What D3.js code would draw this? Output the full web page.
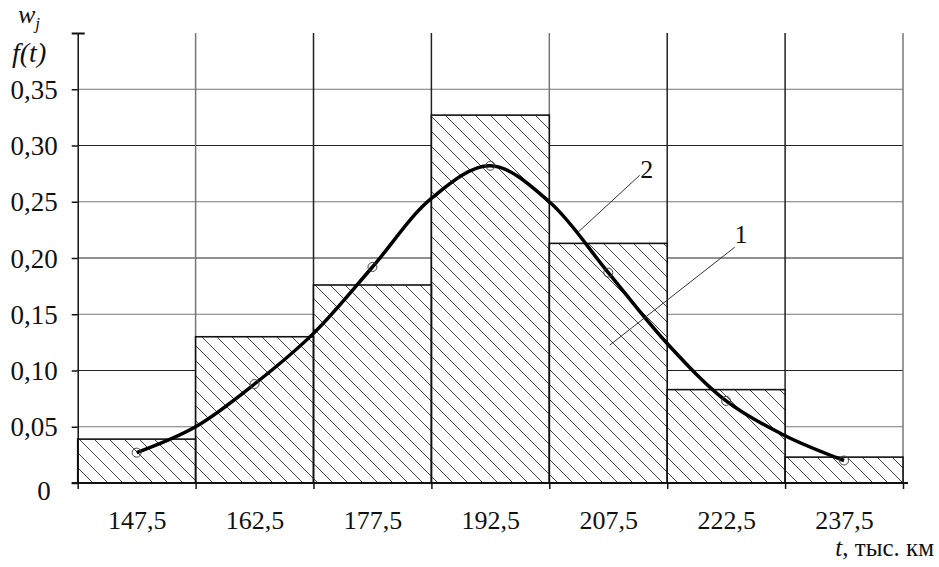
<!DOCTYPE html>
<html>
<head>
<meta charset="utf-8">
<script src="https://cdn.jsdelivr.net/npm/d3@7"></script>
<style>
  body { margin: 0; background: #fff; }
  text { font-family: "Liberation Serif", "Times New Roman", serif; fill: #111; }
</style>
</head>
<body>
<div class="canvas"></div>
<script>
// bin midpoints (thousand km) and relative frequencies w_j
const mids = [147.5, 162.5, 177.5, 192.5, 207.5, 222.5, 237.5];
const freqs = [0.039, 0.130, 0.176, 0.327, 0.213, 0.083, 0.023];
// bin edges
const edges = [140, 155, 170, 185, 200, 215, 230, 245];
// density curve f(t)
const curveT = [147.5, 155, 162.5, 170, 177.5, 185, 192.5, 200, 207.5, 215, 222.5, 230, 237.5];
const curveF = [0.027, 0.050, 0.088, 0.133, 0.192, 0.253, 0.282, 0.250, 0.187, 0.124, 0.073, 0.042, 0.020];
// values of the theoretical curve at the midpoints (circles)
const pointF = [0.027, 0.088, 0.192, 0.282, 0.187, 0.073, 0.020];
const yTicks = [0, 0.05, 0.10, 0.15, 0.20, 0.25, 0.30, 0.35, 0.40];

const width = 939, height = 567;
const svg = d3.select('.canvas')
  .append('svg')
   .attr('width', width)
   .attr('height', height);

const x = d3.scaleLinear().domain([140, 245]).range([77.7, 903]);
const y = d3.scaleLinear().domain([0, 0.40]).range([483, 33]);

const comma = d => d === 0 ? '0' : d3.format('.2f')(d).replace('.', ',');

// hatch pattern
const defs = svg.append('defs');
const pat = defs.append('pattern')
  .attr('id', 'hatch')
  .attr('patternUnits', 'userSpaceOnUse')
  .attr('width', 15).attr('height', 15);
pat.append('path')
  .attr('d', 'M-2,-2L17,17M-2,13L2,17M13,-2L17,2')
  .attr('stroke', '#444')
  .attr('stroke-width', 1);

// grid
const grid = svg.append('g');
grid.selectAll('line.h')
  .data(yTicks.filter(d => d > 0 && d < 0.4))
  .enter().append('line')
   .attr('x1', x(140)).attr('x2', x(245))
   .attr('y1', d => y(d)).attr('y2', d => y(d))
   .attr('stroke', (d, i) => i % 2 === 0 ? '#777' : '#222')
   .attr('stroke-width', 1.2);
grid.selectAll('line.v')
  .data(edges.slice(1))
  .enter().append('line')
   .attr('x1', d => x(d)).attr('x2', d => x(d))
   .attr('y1', y(0.40)).attr('y2', y(0))
   .attr('stroke', (d, i) => i % 3 === 0 ? '#777' : '#222')
   .attr('stroke-width', 1.5);

// bars: white under-fill then hatch
const bars = svg.append('g');
bars.selectAll('rect.bg')
  .data(mids)
  .enter().append('rect')
   .attr('x', (d, i) => x(edges[i]))
   .attr('width', (d, i) => x(edges[i + 1]) - x(edges[i]))
   .attr('y', (d, i) => y(freqs[i]))
   .attr('height', (d, i) => y(0) - y(freqs[i]))
   .attr('fill', '#fff');
bars.selectAll('rect.fg')
  .data(mids)
  .enter().append('rect')
   .attr('x', (d, i) => x(edges[i]))
   .attr('width', (d, i) => x(edges[i + 1]) - x(edges[i]))
   .attr('y', (d, i) => y(freqs[i]))
   .attr('height', (d, i) => y(0) - y(freqs[i]))
   .attr('fill', 'url(#hatch)')
   .attr('stroke', '#111')
   .attr('stroke-width', 1.6);

// axes
const yAxis = d3.axisLeft(y)
  .tickValues(yTicks)
  .tickSize(6)
  .tickSizeOuter(0)
  .tickPadding(14)
  .tickFormat(d => d === 0.40 ? '' : comma(d));
const yAxisGroup = svg.append('g')
  .attr('transform', `translate(${x(140)},0)`)
  .call(yAxis);
yAxisGroup.select('.domain').attr('stroke', '#111').attr('stroke-width', 1.5);
yAxisGroup.selectAll('.tick line').attr('stroke', '#111').attr('stroke-width', 1.5);
yAxisGroup.selectAll('.tick')
  .filter(d => d === 0.40)
  .select('line').attr('x1', 7).attr('x2', -6).attr('stroke-width', 2);
yAxisGroup.selectAll('text')
  .style('font-size', '27px')
  .attr('dy', '0.34em');
yAxisGroup.selectAll('.tick')
  .filter(d => d === 0)
  .select('text')
   .attr('x', -27)
   .attr('dy', '0.6em');

const xAxis = d3.axisBottom(x)
  .tickValues(edges)
  .tickSize(6)
  .tickSizeOuter(0)
  .tickFormat('');
const xAxisGroup = svg.append('g')
  .attr('transform', `translate(0,${y(0)})`)
  .call(xAxis);
xAxisGroup.select('.domain')
  .attr('d', `M${x(140) - 6},0H${x(245) + 5}`)
  .attr('stroke', '#111').attr('stroke-width', 1.8);
xAxisGroup.selectAll('.tick line').attr('stroke', '#111').attr('stroke-width', 1.5);

const xLabels = d3.axisBottom(x)
  .tickValues(mids)
  .tickSize(0)
  .tickPadding(28)
  .tickFormat(d => d3.format('.1f')(d).replace('.', ','));
const xLabelGroup = svg.append('g')
  .attr('transform', `translate(0,${y(0)})`)
  .call(xLabels);
xLabelGroup.select('.domain').remove();
xLabelGroup.selectAll('text').style('font-size', '26px');

// density curve
const line = d3.line()
  .x((d, i) => x(curveT[i]))
  .y(d => y(d))
  .curve(d3.curveCatmullRom.alpha(0.5));
svg.append('path')
  .attr('d', line(curveF))
  .attr('fill', 'none')
  .attr('stroke', '#000')
  .attr('stroke-width', 3.5);

svg.append('g').selectAll('circle')
  .data(mids)
  .enter().append('circle')
   .attr('cx', d => x(d))
   .attr('cy', (d, i) => y(pointF[i]))
   .attr('r', 4.5)
   .attr('fill', 'none')
   .attr('stroke', '#444')
   .attr('stroke-width', 1);

// leaders and labels
const leaders = [
  { t1: 211.5, f1: 0.2735, t2: 203.65, f2: 0.2229, lt: 212.4, lf: 0.2715, text: '2' },
  { t1: 223.6, f1: 0.2096, t2: 207.7, f2: 0.1226, lt: 224.4, lf: 0.2135, text: '1' }
];
svg.append('g').selectAll('line')
  .data(leaders)
  .enter().append('line')
   .attr('x1', d => x(d.t1)).attr('y1', d => y(d.f1))
   .attr('x2', d => x(d.t2)).attr('y2', d => y(d.f2))
   .attr('stroke', '#333')
   .attr('stroke-width', 1);
svg.append('g').selectAll('text')
  .data(leaders)
  .enter().append('text')
   .attr('x', d => x(d.lt))
   .attr('y', d => y(d.lf))
   .attr('text-anchor', 'middle')
   .style('font-size', '26px')
   .text(d => d.text);

// axis titles
const yTitle = svg.append('g');
yTitle.append('text')
  .attr('x', 18).attr('y', 23)
  .style('font-size', '26px').style('font-style', 'italic')
  .text('w')
  .append('tspan')
   .attr('dy', 6)
   .style('font-size', '17px')
   .text('j');
yTitle.append('text')
  .attr('x', 12).attr('y', 62)
  .style('font-size', '28px').style('font-style', 'italic')
  .text('f(t)');

svg.append('text')
  .attr('x', 934).attr('y', 556)
  .attr('text-anchor', 'end')
  .style('font-size', '25px')
  .call(t => {
    t.append('tspan').style('font-style', 'italic').text('t');
    t.append('tspan').text(', тыс. км');
  });
</script>
</body>
</html>
